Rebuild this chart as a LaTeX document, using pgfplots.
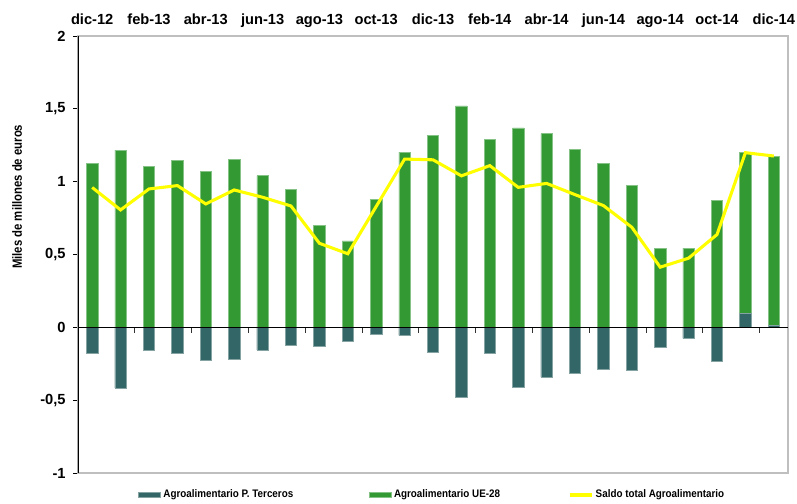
\documentclass[border=0pt]{standalone}
\usepackage{fontspec}
\setmainfont{Liberation Sans}
\newfontfamily\narrowfont[FakeStretch=0.9]{Liberation Sans}
\newfontfamily\ylabfont[FakeStretch=0.85]{Liberation Sans}
\usepackage{pgfplots}
\usepackage{pgfplotstable}
\pgfplotsset{compat=1.18}
\definecolor{ue}{RGB}{51,153,51}
\definecolor{pt}{RGB}{51,102,102}
\definecolor{saldo}{RGB}{255,255,0}

% x: month index (0 = dic-12 ... 24 = dic-14), values in miles de millones de euros
\pgfplotstableread{
x  ue     pt      saldo
0  1.125  -0.176  0.960
1  1.217  -0.416  0.806
2  1.103  -0.160  0.950
3  1.144  -0.176  0.973
4  1.073  -0.228  0.847
5  1.155  -0.217  0.943
6  1.041  -0.155  0.893
7  0.945  -0.121  0.833
8  0.701  -0.130  0.577
9  0.594  -0.094  0.505
10 0.877  -0.050  0.830
11 1.203  -0.055  1.155
12 1.320  -0.171  1.150
13 1.521  -0.482  1.040
14 1.288  -0.176  1.110
15 1.370  -0.411  0.961
16 1.329  -0.342  0.988
17 1.221  -0.315  0.911
18 1.125  -0.290  0.836
19 0.977  -0.295  0.687
20 0.543  -0.135  0.413
21 0.543  -0.075  0.475
22 0.870  -0.233  0.637
23 1.101   0.098  1.199
24 1.165   0.011  1.176
}\datatable

\begin{document}
\begin{tikzpicture}
\begin{axis}[
  width=532.5pt, height=327.75pt, scale only axis,
  xmin=-0.5, xmax=24.5, ymin=-1, ymax=2,
  axis line style={draw=black!25, line width=0.8pt},
  xtick={0,2,...,24},
  xticklabels={dic-12,feb-13,abr-13,jun-13,ago-13,oct-13,dic-13,feb-14,abr-14,jun-14,ago-14,oct-14,dic-14},
  xticklabel pos=upper,
  xtick style={draw=none},
  x tick label style={font=\fontsize{11}{13}\selectfont\bfseries, anchor=base, yshift=5pt},
  ytick={-1,-0.5,0,0.5,1,1.5,2},
  ytick pos=left,
  tick align=outside,
  major tick length=3.5pt,
  ytick style={draw=black, line width=0.5pt},
  y tick label style={font=\fontsize{11}{13}\selectfont\bfseries},
  yticklabel shift=2.3pt,
  /pgf/number format/use comma,
  /pgf/number format/assume math mode=true,
  every axis y label/.style={at={(axis description cs:-0.0859,0.632)}, rotate=90, anchor=center},
  ylabel={\ylabfont\fontsize{10}{12}\selectfont\bfseries Miles de millones de euros},
  legend style={at={(axis description cs:0.0845,-0.0503)}, anchor=west, draw=none, fill=none,
    legend columns=3, inner sep=0pt,
    font=\narrowfont\fontsize{8.2}{10}\selectfont\bfseries,
    /tikz/every even column/.append style={column sep=0pt}},
  legend cell align=left,
]
\addplot[ybar, bar width=0.4, bar shift=0pt, fill=pt, draw=pt!60!white, line width=0.4pt,
  legend image code/.code={\path[fill=pt] (0pt,-1.8pt) rectangle (16.5pt,1.8pt);}]
  table[x=x, y=pt] {\datatable};
\addlegendentry{\makebox[152pt][l]{Agroalimentario P. Terceros}}
\addplot[ybar, bar width=0.4, bar shift=0pt, fill=ue, draw=ue!60!white, line width=0.4pt,
  legend image code/.code={\path[fill=ue] (0pt,-1.8pt) rectangle (16.5pt,1.8pt);}]
  table[x=x, y expr={\thisrow{ue}+max(0,\thisrow{pt})}] {\datatable};
\addlegendentry{\makebox[128.5pt][l]{Agroalimentario UE-28}}
\addplot[ybar, bar width=0.4, bar shift=0pt, fill=pt, draw=pt!60!white, line width=0.4pt, forget plot]
  table[x=x, y=pt] {\datatable};
\addplot[saldo, line width=2.3pt, sharp plot, mark=none,
  legend image code/.code={\draw[saldo, line width=2.3pt] (0pt,0pt) -- (16.5pt,0pt);}]
  table[x=x, y=saldo] {\datatable};
\addlegendentry{Saldo total Agroalimentario}
\draw[black, line width=0.8pt] (rel axis cs:0,0) -- (rel axis cs:0,1);
\end{axis}
% overlay axis: zero line with category-boundary tick marks
\begin{axis}[
  width=532.5pt, height=327.75pt, scale only axis,
  xmin=-0.5, xmax=24.5, ymin=-1, ymax=2,
  axis x line=middle, axis y line=none,
  x axis line style={-, black, line width=0.7pt},
  xtick={1.5,3.5,5.5,7.5,9.5,11.5,13.5,15.5,17.5,19.5,21.5,23.5},
  xticklabels={},
  tick align=outside,
  major tick length=4pt,
  xtick style={draw=black!80, line width=0.7pt},
]
\end{axis}
\pgfresetboundingbox
\path[use as bounding box] ([xshift=-58.5pt,yshift=-22.5pt]current axis.south west) rectangle ([xshift=6.75pt,yshift=27pt]current axis.north east);
\end{tikzpicture}
\end{document}
